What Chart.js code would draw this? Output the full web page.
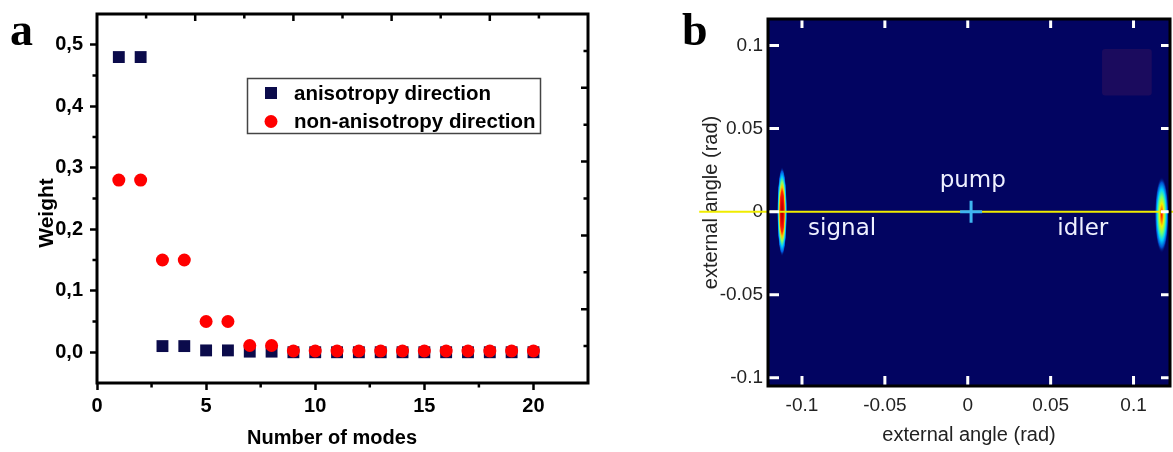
<!DOCTYPE html>
<html>
<head>
<meta charset="utf-8">
<script src="https://cdn.jsdelivr.net/npm/chart.js@4.4.0/dist/chart.umd.min.js"></script>
<style>
  html, body { margin: 0; padding: 0; background: #fff; }
  #wrap { position: relative; width: 1173px; height: 452px; overflow: hidden; }
  #chartA { position: absolute; left: 0; top: 0; }
  #chartB { position: absolute; left: 600px; top: 0; }
</style>
</head>
<body>
<div id="wrap">
  <canvas id="chartA" width="600" height="452"></canvas>
  <canvas id="chartB" width="573" height="452"></canvas>
</div>
<script>
// ---- panel a: mode weights ----
const modes = [1, 2, 3, 4, 5, 6, 7, 8, 9, 10, 11, 12, 13, 14, 15, 16, 17, 18, 19, 20];
const anisotropy = [0.48, 0.48, 0.01, 0.01, 0.003, 0.003, 0.001, 0.001, 0, 0, 0, 0, 0, 0, 0, 0, 0, 0, 0, 0];
const nonAnisotropy = [0.28, 0.28, 0.15, 0.15, 0.05, 0.05, 0.011, 0.011, 0.002, 0.002, 0.002, 0.002, 0.002, 0.002, 0.002, 0.002, 0.002, 0.002, 0.002, 0.002];
const xTicksA = [0, 5, 10, 15, 20];
const xMinorA = [2.5, 7.5, 12.5, 17.5];
const yTicksA = [0, 0.1, 0.2, 0.3, 0.4, 0.5];
const yMinorA = [0.05, 0.15, 0.25, 0.35, 0.45];

// ---- panel b: far-field angular distribution ----
const ticksB = [-0.1, -0.05, 0, 0.05, 0.1];
const blobX = [-0.112, 0.117];
const blobY = [0, -0.002];
const blobHalfWidth = [0.003, 0.0042];
const blobHalfHeight = [0.027, 0.023];
const pumpX = [0.002];
const pumpY = [0];
const axisLineX = [-0.162, 0.124];
const axisLineY = [0, 0];
const labelText = ['pump', 'signal', 'idler'];
const labelX = [0.003, -0.0758, 0.0694];
const labelY = [0.0185, -0.0105, -0.0105];
const patchX = [0.081, 0.111];
const patchY = [0.070, 0.098];

const sansBold = (size) => ({ family: 'Liberation Sans', weight: 'bold', size: size, lineHeight: 1.2 });

// keep the plot box where it is: no extra room for overhanging labels
function noPadding(s) {
  s.paddingLeft = 0; s.paddingRight = 0; s.paddingTop = 0; s.paddingBottom = 0;
}

// frame, minor ticks, mirrored ticks, legend, titles and panel letter for panel a
const frameA = {
  id: 'frameA',
  afterDraw(chart) {
    const ctx = chart.ctx;
    const a = chart.chartArea;
    const xs = chart.scales.x, ys = chart.scales.y;
    ctx.save();
    ctx.strokeStyle = '#000';
    ctx.lineWidth = 3;
    ctx.strokeRect(a.left, a.top, a.right - a.left, a.bottom - a.top);

    ctx.lineWidth = 2.5;
    ctx.beginPath();
    xMinorA.forEach(v => {
      const px = xs.getPixelForValue(v);
      ctx.moveTo(px, a.bottom); ctx.lineTo(px, a.bottom + 4.5);
    });
    yMinorA.forEach(v => {
      const py = ys.getPixelForValue(v);
      ctx.moveTo(a.left, py); ctx.lineTo(a.left - 4.5, py);
    });
    // the top/right axes have their own ten divisions
    for (let k = 1; k < 10; k++) {
      const len = k % 2 === 0 ? 7 : 4.5;
      const px = a.left + (a.right - a.left) * k / 10;
      const py = a.top + (a.bottom - a.top) * k / 10;
      ctx.moveTo(px, a.top); ctx.lineTo(px, a.top + len);
      ctx.moveTo(a.right, py); ctx.lineTo(a.right - len, py);
    }
    ctx.stroke();

    // legend
    ctx.lineWidth = 1.5;
    ctx.strokeStyle = '#444';
    ctx.strokeRect(247.5, 78.5, 293, 55);
    ctx.font = 'bold 20.5px "Liberation Sans"';
    ctx.textBaseline = 'middle';
    ctx.textAlign = 'left';
    chart.data.datasets.forEach((ds, i) => {
      const y = 93 + i * 28.5;
      ctx.fillStyle = ds.backgroundColor;
      if (ds.pointStyle === 'rect') {
        ctx.fillRect(265, y - 6, 12, 12);
      } else {
        ctx.beginPath(); ctx.arc(271, y, 6.5, 0, Math.PI * 2); ctx.fill();
      }
      ctx.fillStyle = '#000';
      ctx.fillText(ds.label, 294, y + 1);
    });

    // axis titles
    ctx.textAlign = 'center';
    ctx.font = 'bold 20px "Liberation Sans"';
    ctx.fillText('Number of modes', 332, 438);
    ctx.save();
    ctx.translate(47, 213);
    ctx.rotate(-Math.PI / 2);
    ctx.font = 'bold 21px "Liberation Sans"';
    ctx.fillText('Weight', 0, 0);
    ctx.restore();

    ctx.textAlign = 'left';
    ctx.font = 'bold 46px "Liberation Serif"';
    ctx.textBaseline = 'alphabetic';
    ctx.fillText('a', 10, 45);
    ctx.restore();
  }
};

new Chart(document.getElementById('chartA'), {
  type: 'scatter',
  data: {
    datasets: [
      {
        label: 'anisotropy direction',
        data: modes.map((m, i) => ({ x: m, y: anisotropy[i] })),
        pointStyle: 'rect',
        pointRadius: 8.4,
        backgroundColor: '#0b0b4b',
        borderWidth: 0,
        order: 1
      },
      {
        label: 'non-anisotropy direction',
        data: modes.map((m, i) => ({ x: m, y: nonAnisotropy[i] })),
        pointStyle: 'circle',
        pointRadius: 6.5,
        backgroundColor: '#ff0000',
        borderWidth: 0,
        order: 0
      }
    ]
  },
  options: {
    responsive: false,
    animation: false,
    devicePixelRatio: 1,
    events: [],
    layout: { autoPadding: false, padding: { top: 14, right: 12, left: 0, bottom: 0 } },
    plugins: { legend: { display: false }, tooltip: { enabled: false } },
    scales: {
      x: {
        type: 'linear', min: 0, max: 22.5,
        afterFit: s => { s.height = 69; noPadding(s); },
        afterBuildTicks: s => { s.ticks = xTicksA.map(v => ({ value: v })); },
        border: { display: false },
        grid: { display: true, drawOnChartArea: false, drawTicks: true, tickLength: 7, tickWidth: 2.5, tickColor: '#000' },
        ticks: { autoSkip: false, maxRotation: 0, padding: 4, color: '#000', font: sansBold(20) }
      },
      y: {
        type: 'linear', min: -0.05, max: 0.55,
        afterFit: s => { s.width = 97; noPadding(s); },
        afterBuildTicks: s => { s.ticks = yTicksA.map(v => ({ value: v })); },
        border: { display: false },
        grid: { display: true, drawOnChartArea: false, drawTicks: true, tickLength: 7, tickWidth: 2.5, tickColor: '#000' },
        ticks: { autoSkip: false, padding: 7, color: '#000', font: sansBold(20), callback: v => v.toFixed(1).replace('.', ',') }
      }
    }
  },
  plugins: [frameA]
});

// background, blobs and annotations for panel b
const fieldB = {
  id: 'fieldB',
  beforeDatasetsDraw(chart) {
    const ctx = chart.ctx;
    const a = chart.chartArea;
    const xs = chart.scales.x, ys = chart.scales.y;
    ctx.save();
    ctx.beginPath();
    ctx.rect(a.left, a.top, a.right - a.left, a.bottom - a.top);
    ctx.clip();
    ctx.fillStyle = '#020461';
    ctx.fillRect(a.left, a.top, a.right - a.left, a.bottom - a.top);

    // faint patch top right
    const x0 = xs.getPixelForValue(patchX[0]), x1 = xs.getPixelForValue(patchX[1]);
    const y0 = ys.getPixelForValue(patchY[1]), y1 = ys.getPixelForValue(patchY[0]);
    ctx.fillStyle = '#1b0b5e';
    ctx.beginPath();
    ctx.roundRect(x0, y0, x1 - x0, y1 - y0, 3);
    ctx.fill();

    const stops = [
      [[0, '#9a0000'], [0.25, '#e00000'], [0.45, '#ff2a00'], [0.55, '#ffc400'], [0.65, '#90ff60'], [0.78, '#00c8ff'], [0.9, '#0058e0'], [1, 'rgba(2,4,97,0)']],
      [[0, '#ff0a00'], [0.15, '#ff7a00'], [0.3, '#f2f000'], [0.48, '#70ff70'], [0.66, '#00d0ff'], [0.85, '#0050d0'], [1, 'rgba(2,4,97,0)']]
    ];
    blobX.forEach((bx, i) => {
      const px = xs.getPixelForValue(bx), py = ys.getPixelForValue(blobY[i]);
      const rx = Math.abs(xs.getPixelForValue(bx + blobHalfWidth[i]) - px);
      const ry = Math.abs(ys.getPixelForValue(blobY[i] + blobHalfHeight[i]) - py);
      ctx.save();
      ctx.translate(px, py);
      ctx.scale(rx, ry);
      const g = ctx.createRadialGradient(0, 0, 0, 0, 0, 1);
      stops[i].forEach(([o, c]) => g.addColorStop(o, c));
      ctx.fillStyle = g;
      ctx.beginPath();
      ctx.arc(0, 0, 1, 0, Math.PI * 2);
      ctx.fill();
      ctx.restore();
    });

    ctx.fillStyle = '#eef0ff';
    ctx.font = '23px "DejaVu Sans"';
    ctx.textAlign = 'center';
    ctx.textBaseline = 'middle';
    labelText.forEach((t, i) => {
      ctx.fillText(t, xs.getPixelForValue(labelX[i]), ys.getPixelForValue(labelY[i]));
    });
    ctx.restore();
  },
  afterDraw(chart) {
    const ctx = chart.ctx;
    const a = chart.chartArea;
    const xs = chart.scales.x, ys = chart.scales.y;
    ctx.save();
    ctx.strokeStyle = '#000';
    ctx.lineWidth = 3;
    ctx.strokeRect(a.left, a.top, a.right - a.left, a.bottom - a.top);

    ctx.strokeStyle = '#fff';
    ctx.lineWidth = 3;
    ctx.beginPath();
    ticksB.forEach(v => {
      const px = xs.getPixelForValue(v);
      const py = ys.getPixelForValue(v);
      ctx.moveTo(px, a.bottom - 1.5); ctx.lineTo(px, a.bottom - 10);
      ctx.moveTo(px, a.top + 1.5); ctx.lineTo(px, a.top + 9);
      ctx.moveTo(a.left + 1.5, py); ctx.lineTo(a.left + 11, py);
      ctx.moveTo(a.right - 1.5, py); ctx.lineTo(a.right - 9, py);
    });
    ctx.stroke();

    ctx.fillStyle = '#000';
    ctx.font = 'bold 46px "Liberation Serif"';
    ctx.textBaseline = 'alphabetic';
    ctx.fillText('b', 82, 45);
    ctx.restore();
  }
};

const tickFontB = { family: 'Liberation Sans', size: 19, lineHeight: 1.2 };

new Chart(document.getElementById('chartB'), {
  type: 'scatter',
  data: {
    datasets: [
      {
        type: 'line',
        label: 'zero line',
        data: axisLineX.map((x, i) => ({ x: x, y: axisLineY[i] })),
        borderColor: '#f0ec00',
        borderWidth: 2,
        pointRadius: 0,
        clip: false,
        order: 1
      },
      {
        label: 'pump',
        data: pumpX.map((x, i) => ({ x: x, y: pumpY[i] })),
        pointStyle: 'cross',
        pointRadius: 11,
        pointBorderColor: '#3fb6f0',
        pointBorderWidth: 3,
        order: 0
      }
    ]
  },
  options: {
    responsive: false,
    animation: false,
    devicePixelRatio: 1,
    events: [],
    layout: { autoPadding: false, padding: { top: 19, right: 3, left: 0, bottom: 0 } },
    plugins: { legend: { display: false }, tooltip: { enabled: false } },
    scales: {
      x: {
        type: 'linear', min: -0.1205, max: 0.122,
        afterFit: s => { s.height = 66; noPadding(s); },
        afterBuildTicks: s => { s.ticks = ticksB.map(v => ({ value: v })); },
        border: { display: false },
        grid: { display: false, drawTicks: false },
        ticks: { autoSkip: false, maxRotation: 0, padding: 8, color: '#222', font: tickFontB, callback: v => String(v) },
        title: { display: true, text: 'external angle (rad)', color: '#222', font: { family: 'Liberation Sans', size: 20, lineHeight: 1.2 }, padding: { top: 0, bottom: 5 } }
      },
      y: {
        type: 'linear', min: -0.105, max: 0.116,
        afterFit: s => { s.width = 168; noPadding(s); },
        afterBuildTicks: s => { s.ticks = ticksB.map(v => ({ value: v })); },
        border: { display: false },
        grid: { display: false, drawTicks: false },
        ticks: { autoSkip: false, padding: 5, color: '#222', font: tickFontB, callback: v => String(v) },
        title: { display: true, text: 'external angle (rad)', color: '#222', font: { family: 'Liberation Sans', size: 20, lineHeight: 1.2 }, padding: { top: 99, bottom: 0 } }
      }
    }
  },
  plugins: [fieldB]
});
</script>
</body>
</html>
